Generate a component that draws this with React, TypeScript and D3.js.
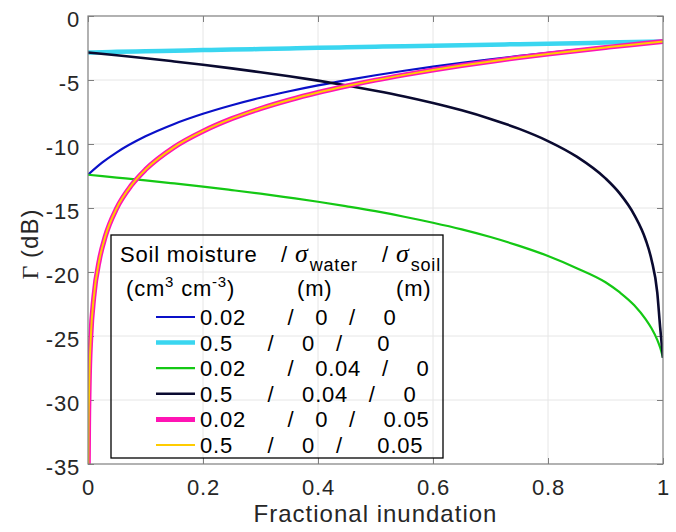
import React, { useEffect, useRef } from 'react';
import * as d3 from 'd3';

// fractional inundation sample positions
const fracA = [0, 0.025, 0.05, 0.1, 0.15, 0.2, 0.25, 0.3, 0.35, 0.4, 0.45, 0.5, 0.55, 0.6, 0.65, 0.7, 0.75, 0.8, 0.85, 0.9, 0.95, 1];
const fracB = [0, 0.05, 0.1, 0.15, 0.2, 0.25, 0.3, 0.35, 0.4, 0.45, 0.5, 0.55, 0.6, 0.65, 0.7, 0.75, 0.8, 0.85, 0.9, 0.925, 0.95, 0.97, 0.98, 0.99, 0.995, 1];
const fracC = [0.0004, 0.001, 0.002, 0.005, 0.01, 0.02, 0.03, 0.05, 0.075, 0.1, 0.15, 0.2, 0.25, 0.3, 0.35, 0.4, 0.45, 0.5, 0.55, 0.6, 0.65, 0.7, 0.75, 0.8, 0.85, 0.9, 0.95, 1];

// reflectivity (dB)
const blueDb = [-12.4, -11.44, -10.65, -9.4, -8.43, -7.64, -6.97, -6.39, -5.88, -5.42, -5.01, -4.63, -4.28, -3.96, -3.66, -3.38, -3.12, -2.87, -2.64, -2.41, -2.2, -2.0];
const cyanDb = [-2.85, -2.83, -2.8, -2.76, -2.71, -2.66, -2.62, -2.58, -2.53, -2.49, -2.45, -2.4, -2.36, -2.32, -2.28, -2.24, -2.2, -2.16, -2.12, -2.08, -2.04, -2.0];
const greenDb = [-12.4, -12.62, -12.84, -13.08, -13.33, -13.6, -13.88, -14.19, -14.51, -14.87, -15.25, -15.68, -16.15, -16.67, -17.27, -17.96, -18.75, -19.7, -20.8, -21.6, -22.6, -23.7, -24.4, -25.3, -25.9, -26.7];
const navyDb = [-2.85, -3.07, -3.3, -3.55, -3.81, -4.09, -4.39, -4.71, -5.05, -5.43, -5.84, -6.29, -6.8, -7.37, -8.04, -8.82, -9.77, -10.99, -12.69, -13.88, -15.53, -17.5, -19.04, -21.6, -24.3, -26.7];
const magentaDb = [-35.98, -32.0, -29.0, -25.0, -22.0, -19.0, -17.23, -15.01, -13.25, -12.0, -10.24, -9.0, -8.02, -7.23, -6.56, -5.98, -5.47, -5.01, -4.6, -4.22, -3.87, -3.55, -3.25, -2.97, -2.71, -2.46, -2.22, -2.0];
const yellowDb = [-35.98, -32.0, -29.0, -25.0, -22.0, -19.0, -17.23, -15.01, -13.25, -12.0, -10.24, -9.0, -8.02, -7.23, -6.56, -5.98, -5.47, -5.01, -4.6, -4.22, -3.87, -3.55, -3.25, -2.97, -2.71, -2.46, -2.22, -2.0];

const xTicks = [0, 0.2, 0.4, 0.6, 0.8, 1];
const xTickLabels = ['0', '0.2', '0.4', '0.6', '0.8', '1'];
const yTicks = [-35, -30, -25, -20, -15, -10, -5, 0];
const yTickLabels = ['-35', '-30', '-25', '-20', '-15', '-10', '-5', '0'];

// legend text: soil moisture / sigma water / sigma soil
const legendLabels = [
  '0.02      /   0   /    0',
  '0.5     /    0   /     0',
  '0.02      /   0.04   /    0',
  '0.5     /    0.04   /    0',
  '0.02      /   0   /    0.05',
  '0.5     /    0   /     0.05',
];

const SANS = '"Liberation Sans", Arial, Helvetica, sans-serif';
const SERIF = '"Liberation Serif", "Times New Roman", serif';
const TXT = '#262626';

export default function App() {
  const ref = useRef<SVGSVGElement>(null);

  useEffect(() => {
    if (!ref.current) return;
    const svg = d3.select(ref.current);
    svg.selectAll('*').remove();

    const left = 88, right = 663, top = 16, bottom = 464;
    const x = d3.scaleLinear().domain([0, 1]).range([left, right]);
    const y = d3.scaleLinear().domain([-35, 0]).range([bottom, top]);

    svg.append('rect').attr('width', 676).attr('height', 532).attr('fill', '#fff');

    // grid
    const grid = svg.append('g').attr('stroke', '#e6e6e6').attr('stroke-width', 1);
    xTicks.slice(1, -1).forEach(t => {
      grid.append('line').attr('x1', x(t)).attr('x2', x(t)).attr('y1', top).attr('y2', bottom);
    });
    yTicks.slice(1, -1).forEach(t => {
      grid.append('line').attr('x1', left).attr('x2', right).attr('y1', y(t)).attr('y2', y(t));
    });

    // axes
    const styleAxis = (g: any) => {
      g.select('.domain').remove();
      g.selectAll('.tick line').attr('stroke', '#7f7f7f').attr('stroke-width', 1);
      g.selectAll('.tick text')
        .attr('fill', TXT)
        .style('font-family', SANS)
        .style('font-size', '22px')
        .style('letter-spacing', '0.8px');
    };
    svg.append('g')
      .attr('transform', `translate(0,${bottom})`)
      .call(d3.axisBottom(x).tickValues(xTicks).tickFormat((d, i) => xTickLabels[i]).tickSizeInner(-6).tickSizeOuter(0).tickPadding(15) as any)
      .call(styleAxis);
    svg.append('g')
      .attr('transform', `translate(0,${top})`)
      .call(d3.axisTop(x).tickValues(xTicks).tickFormat(() => '').tickSizeInner(-6).tickSizeOuter(0) as any)
      .call(styleAxis);
    svg.append('g')
      .attr('transform', `translate(${left},0)`)
      .call(d3.axisLeft(y).tickValues(yTicks).tickFormat((d, i) => yTickLabels[i]).tickSizeInner(-6).tickSizeOuter(0).tickPadding(8) as any)
      .call(styleAxis)
      .selectAll('.tick text').attr('dy', '0.48em');
    svg.append('g')
      .attr('transform', `translate(${right},0)`)
      .call(d3.axisRight(y).tickValues(yTicks).tickFormat(() => '').tickSizeInner(-6).tickSizeOuter(0) as any)
      .call(styleAxis);

    // clip
    svg.append('clipPath').attr('id', 'plotclip')
      .append('rect').attr('x', left).attr('y', top).attr('width', right - left).attr('height', bottom - top);

    const line = d3.line<[number, number]>()
      .x(d => x(d[0]))
      .y(d => y(d[1]))
      .curve(d3.curveMonotoneX);

    const series = [
      { xs: fracA, ys: blueDb, color: '#0a10c8', width: 2.2 },
      { xs: fracA, ys: cyanDb, color: '#3ad6f0', width: 4.5 },
      { xs: fracB, ys: greenDb, color: '#14c814', width: 2.2 },
      { xs: fracB, ys: navyDb, color: '#0a0a30', width: 2.6 },
      { xs: fracC, ys: magentaDb, color: '#ff14b4', width: 5 },
      { xs: fracC, ys: yellowDb, color: '#ffcc00', width: 2 },
    ];

    const plot = svg.append('g').attr('clip-path', 'url(#plotclip)');
    series.forEach(s => {
      plot.append('path')
        .datum(d3.zip(s.xs, s.ys) as [number, number][])
        .attr('d', line)
        .attr('fill', 'none')
        .attr('stroke', s.color)
        .attr('stroke-width', s.width)
        .attr('stroke-linejoin', 'round');
    });

    // box
    svg.append('rect')
      .attr('x', left).attr('y', top).attr('width', right - left).attr('height', bottom - top)
      .attr('fill', 'none').attr('stroke', '#7f7f7f').attr('stroke-width', 1.2);

    // axis labels
    svg.append('text')
      .attr('x', (left + right) / 2).attr('y', 522)
      .attr('text-anchor', 'middle')
      .attr('fill', TXT)
      .style('font-family', SANS).style('font-size', '24px').style('letter-spacing', '1px')
      .text('Fractional inundation');

    const yl = svg.append('text')
      .attr('transform', 'translate(38,244) rotate(-90)')
      .attr('text-anchor', 'middle')
      .attr('fill', TXT)
      .style('font-size', '24px');
    yl.append('tspan').style('font-family', SERIF).text('Γ');
    yl.append('tspan').style('font-family', SANS).style('letter-spacing', '1px').text(' (dB)');

    // legend
    const lg = svg.append('g');
    lg.append('rect')
      .attr('x', 111).attr('y', 235).attr('width', 332).attr('height', 223)
      .attr('fill', 'none').attr('stroke', '#000').attr('stroke-width', 1.3);

    const lt = (xx: number, yy: number) => lg.append('text')
      .attr('x', xx).attr('y', yy)
      .attr('fill', '#000')
      .style('font-family', SANS).style('font-size', '22px').style('letter-spacing', '0.8px');

    lt(120, 262).text('Soil moisture');

    const h1 = lt(281, 262);
    h1.append('tspan').text('/');
    h1.append('tspan').attr('dx', 7).style('font-family', SERIF).style('font-style', 'italic').style('font-size', '26px').style('letter-spacing', '0px').text('σ');
    h1.append('tspan').attr('dx', 2).attr('dy', 9).style('font-size', '18px').text('water');

    const h2 = lt(382, 262);
    h2.append('tspan').text('/');
    h2.append('tspan').attr('dx', 7).style('font-family', SERIF).style('font-style', 'italic').style('font-size', '26px').style('letter-spacing', '0px').text('σ');
    h2.append('tspan').attr('dx', 2).attr('dy', 9).style('font-size', '18px').text('soil');

    const u = lt(126, 296);
    u.append('tspan').text('(cm');
    u.append('tspan').attr('dy', -9).style('font-size', '15px').text('3');
    u.append('tspan').attr('dy', 9).text(' cm');
    u.append('tspan').attr('dy', -9).style('font-size', '15px').text('-3');
    u.append('tspan').attr('dy', 9).text(')');

    lt(297, 296).text('(m)');
    lt(396, 296).text('(m)');

    legendLabels.forEach((lab, i) => {
      const by = 325 + i * 25.6;
      lg.append('line')
        .attr('x1', 156).attr('x2', 195).attr('y1', by - 8).attr('y2', by - 8)
        .attr('stroke', series[i].color).attr('stroke-width', series[i].width);
      lt(200, by).attr('xml:space', 'preserve').style('white-space', 'pre').text(lab);
    });
  }, []);

  return (
    <svg ref={ref} width={676} height={532} style={{ position: 'absolute', left: 0, top: 0 }} />
  );
}
